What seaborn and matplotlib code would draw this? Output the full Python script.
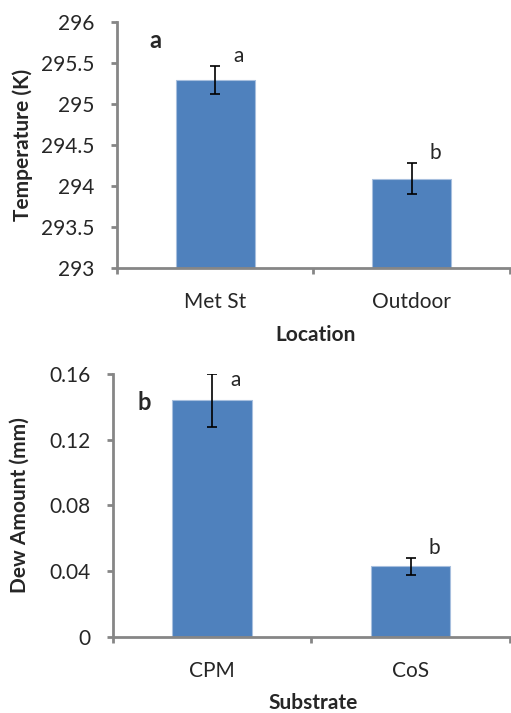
# Temperature by location and dew amount by substrate, two stacked bar panels

import matplotlib
matplotlib.use('Agg')
import matplotlib.pyplot as plt
import seaborn as sns
from matplotlib.ticker import FuncFormatter, FixedLocator

# Values.
locations = ['Met St', 'Outdoor']
temperature = [295.29, 294.09]
temperature_err = [0.17, 0.19]
temperature_groups = ['a', 'b']

substrates = ['CPM', 'CoS']
dew_amount = [0.144, 0.043]
dew_amount_err = [0.016, 0.005]
dew_groups = ['a', 'b']

sns.set_style('ticks')
plt.rcParams['font.family'] = ['Lato', 'DejaVu Sans']

bar_color = '#4F81BD'
axis_color = '#868686'

fig = plt.figure(figsize=(5.11, 7.13), dpi=100)
ax_top = fig.add_axes([0.229, 0.624, 0.769, 0.345])
ax_bot = fig.add_axes([0.221, 0.1066, 0.777, 0.3689])


def draw_panel(ax, cats, vals, errs, groups, ylim, yticks, fmt,
               xlabel, ylabel, panel, panel_pos, ylabel_x, xlabel_y):
    sns.barplot(x=cats, y=vals, color=bar_color, saturation=1, width=0.4,
                edgecolor='#A7BFDE', linewidth=0.8, ax=ax)
    ax.errorbar(range(len(cats)), vals, yerr=errs, fmt='none', ecolor='black',
                elinewidth=1.2, capsize=3.8, capthick=1.2, zorder=5)
    ax.set_xlim(-0.5, len(cats) - 0.5)
    ax.set_ylim(*ylim)
    ax.set_yticks(yticks)
    ax.yaxis.set_major_formatter(FuncFormatter(fmt))

    # group letters just above the error bars
    span = ylim[1] - ylim[0]
    for i, (v, e, g) in enumerate(zip(vals, errs, groups)):
        y = min(v + e, ylim[1] - 0.06 * span)
        ax.text(i + 0.12, y, g, ha='center', va='bottom', fontsize=15)

    ax.text(panel_pos[0], panel_pos[1], panel, transform=ax.transAxes,
            ha='center', va='center', fontsize=17, fontweight='bold')

    for side in ['top', 'right']:
        ax.spines[side].set_visible(False)
    for side in ['left', 'bottom']:
        ax.spines[side].set_color(axis_color)
        ax.spines[side].set_linewidth(2)

    ax.tick_params(axis='y', direction='out', length=4, width=2,
                   color=axis_color, labelsize=15, pad=12)
    ax.xaxis.set_minor_locator(FixedLocator([-0.5, 0.5, len(cats) - 0.5]))
    ax.tick_params(axis='x', which='major', length=0, labelsize=15, pad=17)
    ax.tick_params(axis='x', which='minor', direction='out', length=4,
                   width=2, color=axis_color)

    ax.set_xlabel(xlabel, fontsize=15, fontweight='bold')
    ax.set_ylabel(ylabel, fontsize=15, fontweight='bold')
    ax.yaxis.set_label_coords(ylabel_x, 0.5)
    ax.xaxis.set_label_coords(0.505, xlabel_y)


draw_panel(ax_top, locations, temperature, temperature_err, temperature_groups,
           (293, 296), [293, 293.5, 294, 294.5, 295, 295.5, 296],
           lambda v, p: '%g' % v,
           'Location', 'Temperature (K)', 'a', (0.097, 0.925), -0.214, -0.232)

draw_panel(ax_bot, substrates, dew_amount, dew_amount_err, dew_groups,
           (0, 0.16), [0, 0.04, 0.08, 0.12, 0.16],
           lambda v, p: '0' if v == 0 else '%.2f' % v,
           'Substrate', 'Dew Amount (mm)', 'b', (0.078, 0.89), -0.21, -0.212)

fig.savefig('out.png', dpi=100)
